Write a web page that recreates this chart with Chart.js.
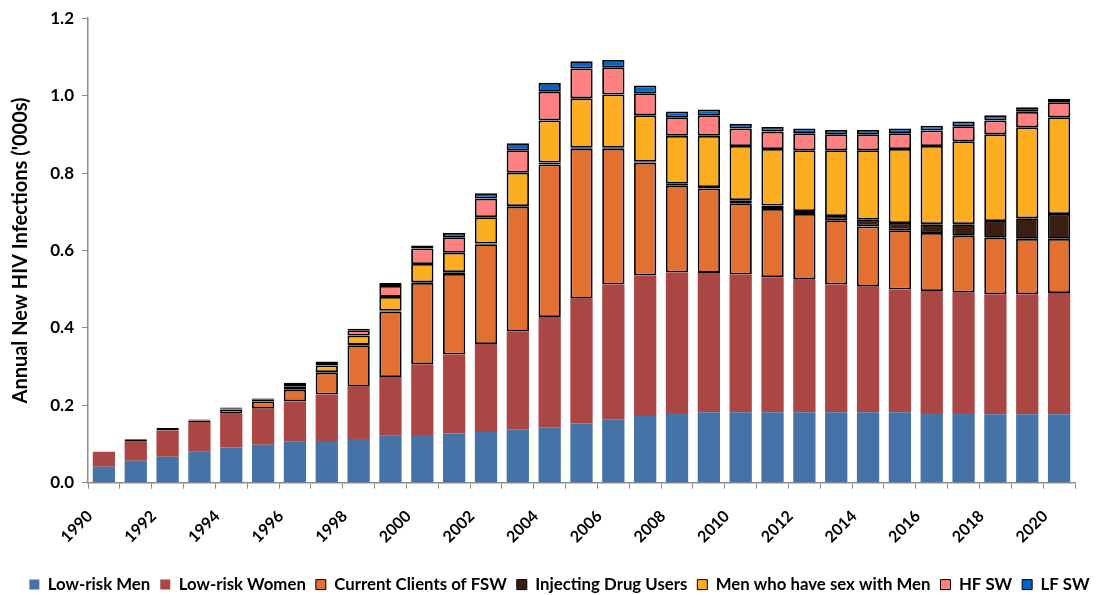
<!DOCTYPE html>
<html>
<head>
<meta charset="utf-8">
<script src="https://cdn.jsdelivr.net/npm/chart.js@4.4.0/dist/chart.umd.min.js"></script>
<style>
  html, body { margin: 0; padding: 0; background: #fff; }
  #wrap { width: 1099px; height: 595px; }
</style>
</head>
<body>
<div id="wrap"><canvas id="hivChart" width="1099" height="595"></canvas></div>
<script>
// Years on the x axis
const years = [1990, 1991, 1992, 1993, 1994, 1995, 1996, 1997, 1998, 1999,
    2000, 2001, 2002, 2003, 2004, 2005, 2006, 2007, 2008, 2009,
    2010, 2011, 2012, 2013, 2014, 2015, 2016, 2017, 2018, 2019, 2020];

// Annual new infections ('000s) per risk group
const lowRiskMen = [0.041, 0.057, 0.067, 0.080, 0.091, 0.098, 0.106, 0.108, 0.113, 0.121,
    0.123, 0.127, 0.131, 0.138, 0.143, 0.153, 0.164, 0.172, 0.180, 0.182,
    0.182, 0.182, 0.182, 0.182, 0.182, 0.182, 0.180, 0.180, 0.177, 0.177, 0.177];
const lowRiskWomen = [0.039, 0.049, 0.068, 0.077, 0.087, 0.093, 0.104, 0.120, 0.135, 0.152,
    0.183, 0.204, 0.227, 0.253, 0.285, 0.322, 0.348, 0.363, 0.363, 0.360,
    0.356, 0.349, 0.342, 0.330, 0.324, 0.317, 0.315, 0.311, 0.310, 0.310, 0.313];
const clientsFSW = [0, 0.004, 0.004, 0.004, 0.011, 0.019, 0.030, 0.056, 0.106, 0.169,
    0.210, 0.208, 0.258, 0.322, 0.394, 0.388, 0.351, 0.292, 0.224, 0.218,
    0.184, 0.176, 0.170, 0.166, 0.156, 0.153, 0.150, 0.147, 0.146, 0.143, 0.140];
const injectingDrugUsers = [0, 0.002, 0.002, 0.002, 0.002, 0.004, 0.002, 0.002, 0.002, 0.002,
    0.002, 0.005, 0.002, 0.002, 0.005, 0.002, 0.002, 0.002, 0.005, 0.004,
    0.008, 0.009, 0.008, 0.011, 0.017, 0.019, 0.023, 0.030, 0.043, 0.053, 0.064];
const msm = [0, 0, 0, 0, 0.002, 0.003, 0.006, 0.017, 0.024, 0.036,
    0.047, 0.050, 0.068, 0.086, 0.109, 0.128, 0.138, 0.120, 0.124, 0.132,
    0.140, 0.146, 0.157, 0.170, 0.180, 0.191, 0.202, 0.214, 0.224, 0.235, 0.250];
const hfSW = [0, 0, 0, 0, 0.001, 0.001, 0.007, 0.006, 0.014, 0.028,
    0.040, 0.040, 0.048, 0.058, 0.074, 0.077, 0.070, 0.057, 0.048, 0.053,
    0.045, 0.045, 0.044, 0.041, 0.041, 0.041, 0.040, 0.039, 0.036, 0.040, 0.039];
const lfSW = [0, 0, 0, 0, 0, 0, 0.003, 0.004, 0.004, 0.008,
    0.008, 0.011, 0.014, 0.018, 0.023, 0.019, 0.019, 0.020, 0.015, 0.015,
    0.012, 0.012, 0.012, 0.011, 0.011, 0.012, 0.012, 0.012, 0.013, 0.012, 0.009];

const yTicks = [0.0, 0.2, 0.4, 0.6, 0.8, 1.0, 1.2];

const FONT = "Lato, 'Open Sans', sans-serif";
const AXIS_GREY = "#8c8c8c";

// helper to build a dataset, outlined groups get a black border
function series(label, data, color, outlined) {
    return {
        label: label,
        data: data,
        backgroundColor: color,
        borderColor: "#000000",
        borderWidth: outlined ? 1.8 : 0,
        borderSkipped: false,
        barPercentage: 0.7,
        categoryPercentage: 1.0
    };
}

const datasets = [
    series("Low-risk Men", lowRiskMen, "#4673A7", false),
    series("Low-risk Women", lowRiskWomen, "#AA4744", false),
    series("Current Clients of FSW", clientsFSW, "#E27031", true),
    series("Injecting Drug Users", injectingDrugUsers, "#3A1E12", true),
    series("Men who have sex with Men", msm, "#FDAE20", true),
    series("HF SW", hfSW, "#FF8080", true),
    series("LF SW", lfSW, "#0066CC", true)
];

const ctx = document.getElementById("hivChart");
new Chart(ctx, {
    type: "bar",
    data: { labels: years.map(String), datasets: datasets },
    options: {
        responsive: false,
        animation: false,
        // negative right padding widens the legend box so it centres like the original
        layout: { padding: { left: 0, right: -20, top: 6, bottom: -8 } },
        plugins: {
            tooltip: { enabled: false },
            legend: {
                position: "bottom",
                labels: {
                    boxWidth: 10,
                    boxHeight: 10,
                    padding: 10,
                    color: "#000",
                    font: { family: FONT, size: 16.8, weight: "bold" },
                    generateLabels: chart => Chart.defaults.plugins.legend.labels.generateLabels(chart)
                        .map((l, i) => Object.assign(l, { lineWidth: i < 2 ? 0 : 1 }))
                }
            }
        },
        scales: {
            x: {
                stacked: true,
                grid: { display: true, drawOnChartArea: false, drawTicks: true, tickLength: 6, color: AXIS_GREY, offset: true },
                border: { display: true, color: AXIS_GREY, width: 1.5 },
                ticks: {
                    autoSkip: false,
                    maxRotation: 45,
                    minRotation: 45,
                    padding: 18,
                    labelOffset: -14,
                    color: "#000",
                    font: { family: FONT, size: 16, weight: "bold" },
                    callback: function (val, i) { return years[i] % 2 === 0 ? years[i] : ""; }
                },
                afterCalculateLabelRotation: scale => { scale.labelRotation = 45; },
                afterFit: scale => { scale.height = 83.5; }
            },
            y: {
                stacked: true,
                min: 0,
                max: 1.2,
                afterBuildTicks: scale => { scale.ticks = yTicks.map(v => ({ value: v })); },
                grid: { display: true, drawOnChartArea: false, drawTicks: true, tickLength: 6, color: AXIS_GREY },
                border: { display: true, color: AXIS_GREY, width: 1.5 },
                ticks: {
                    padding: 8,
                    color: "#000",
                    font: { family: FONT, size: 17, weight: "bold" },
                    callback: v => Number(v).toFixed(1)
                },
                title: {
                    display: true,
                    text: "Annual New HIV Infections ('000s)",
                    color: "#000",
                    padding: { top: 9, bottom: 0 },
                    font: { family: FONT, size: 20, weight: "bold" }
                },
                afterFit: scale => { scale.width = 88; }
            },
            // empty axis on the right, only reserves the gap after the last bar
            yRight: {
                position: "right",
                display: true,
                grid: { display: false, drawTicks: false },
                border: { display: false },
                ticks: { display: false },
                afterFit: scale => { scale.width = 44; }
            }
        }
    }
});
</script>
</body>
</html>
